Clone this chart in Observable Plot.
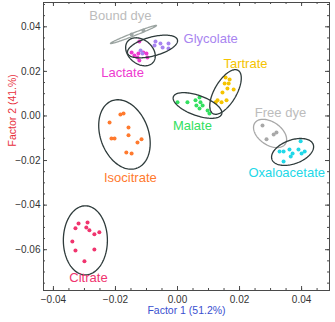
<!DOCTYPE html>
<html><head><meta charset="utf-8">
<script src="https://cdn.jsdelivr.net/npm/d3@7"></script>
<script src="https://cdn.jsdelivr.net/npm/@observablehq/plot@0.6"></script>
<style>body{margin:0;background:#fff;font-family:"Liberation Sans",Arial,sans-serif}</style>
</head><body><div id="chart"></div>
<script>
// ---- data ----
const groups = ["Citrate","Isocitrate","Malate","Tartrate","Free dye","Oxaloacetate","Lactate","Glycolate","Bound dye"];
const colors = ["#f0346e","#ff7a2e","#33e060","#f5c400","#a8a8a8","#22d8e8","#ee3ad0","#a884f0","#a0a8a8"];
const labelColors = ["#f0346e","#ff7a2e","#33e060","#f5c400","#bcbcbc","#22d8e8","#ee3ad0","#a884f0","#bcbcbc"];

const citrateX = [-0.0319,-0.0290,-0.0329,-0.0294,-0.0284,-0.0268,-0.0252,-0.0339,-0.0329,-0.0268,-0.0300];
const citrateY = [-0.0482,-0.0478,-0.0504,-0.0500,-0.0513,-0.0531,-0.0522,-0.0563,-0.0603,-0.0599,-0.0652];
const isocitrateX = [-0.0184,-0.0174,-0.0219,-0.0158,-0.0213,-0.0203,-0.0158,-0.0116,-0.0129,-0.0165,-0.0148];
const isocitrateY = [0.0007,0.0011,-0.0029,-0.0052,-0.0101,-0.0101,-0.0087,-0.0105,-0.0119,-0.0164,-0.0168];
const malateX = [0.0000,0.0032,0.0058,0.0071,0.0074,0.0081,0.0061,0.0071,0.0097,0.0103];
const malateY = [0.0061,0.0061,0.0070,0.0083,0.0061,0.0047,0.0047,0.0034,0.0025,0.0011];
const tartrateX = [0.0155,0.0168,0.0152,0.0165,0.0161,0.0181,0.0145,0.0129,0.0142,0.0158,0.0123];
const tartrateY = [0.0173,0.0164,0.0146,0.0146,0.0123,0.0119,0.0105,0.0070,0.0061,0.0070,0.0061];
const freeDyeX = [0.0274,0.0310,0.0319,0.0287];
const freeDyeY = [-0.0043,-0.0083,-0.0074,-0.0105];
const oxaloX = [0.0397,0.0329,0.0342,0.0361,0.0390,0.0410,0.0371,0.0400,0.0365,0.0342];
const oxaloY = [-0.0114,-0.0159,-0.0159,-0.0150,-0.0150,-0.0159,-0.0168,-0.0168,-0.0182,-0.0204];
const lactateX = [-0.0123,-0.0148,-0.0126,-0.0110,-0.0100,-0.0139,-0.0097,-0.0123,-0.0129];
const lactateY = [0.0334,0.0285,0.0280,0.0285,0.0280,0.0271,0.0262,0.0249,0.0262];
const glycolateX = [-0.0071,-0.0055,-0.0029,-0.0048,-0.0029,-0.0074,-0.0119,-0.0113];
const glycolateY = [0.0334,0.0325,0.0325,0.0307,0.0303,0.0316,0.0294,0.0280];
const boundDyeX = [-0.0148,-0.0110];
const boundDyeY = [0.0366,0.0383];
const pointsX = [citrateX,isocitrateX,malateX,tartrateX,freeDyeX,oxaloX,lactateX,glycolateX,boundDyeX];
const pointsY = [citrateY,isocitrateY,malateY,tartrateY,freeDyeY,oxaloY,lactateY,glycolateY,boundDyeY];

// ellipse centre and conjugate semi-axis vectors (data units)
const ellCx = [-0.0297,-0.0171,0.00645,0.01548,0.02984,0.0371,-0.01194,-0.00806,-0.01419];
const ellCy = [-0.0558,-0.0083,0.0047,0.01076,-0.00785,-0.01614,0.02879,0.03117,0.03655];
const ellUx = [0.0071,0.00397,0.00778,0.00404,0.00489,0.00665,0.00408,0.00804,0.00742];
const ellUy = [0,-0.01515,-0.00392,0.0097,-0.00475,0.00336,-0.00475,0.00299,0.00403];
const ellVx = [0,-0.00729,-0.0011,0.00308,-0.00213,0.00131,-0.00249,0.00079,0.00018];
const ellVy = [0.0155,-0.00367,-0.00421,-0.00246,-0.00422,-0.00501,-0.00412,-0.00411,-0.00063];
const ellStroke = ["#2e3b3b","#2e3b3b","#2e3b3b","#2e3b3b","#a8a8a8","#2e3b3b","#2e3b3b","#2e3b3b","#9aa3a0"];

// label anchor positions (data units)
const labelX = [-0.0287,-0.0152,0.0048,0.0219,0.0332,0.0352,-0.0177,0.0107,-0.0184];
const labelY = [-0.0724,-0.0276,-0.0043,0.0235,0.0016,-0.0253,0.0195,0.0348,0.0451];

const xMajor = [-0.04,-0.02,0.00,0.02,0.04];
const yMajor = [-0.06,-0.04,-0.02,0.00,0.02,0.04];
const xTitle = "Factor 1 (51.2%)";
const yTitle = "Factor 2 (41.%)";

// ---- build tables ----
const pts = [];
groups.forEach((g,i)=>pointsX[i].forEach((x,j)=>pts.push({g, x, y: pointsY[i][j], c: colors[i]})));
const ell = [];
groups.forEach((g,i)=>{
  for (let k=0;k<=120;k++){
    const t = 2*Math.PI*k/120;
    ell.push({g, s: ellStroke[i],
      x: ellCx[i] + ellUx[i]*Math.cos(t) + ellVx[i]*Math.sin(t),
      y: ellCy[i] + ellUy[i]*Math.cos(t) + ellVy[i]*Math.sin(t)});
  }
});
const labels = groups.map((g,i)=>({g, x: labelX[i], y: labelY[i], c: labelColors[i]}));

const xDomain = [-0.0432, 0.049];
const yDomain = [-0.0783, 0.0509];
const xMinor = d3.range(-0.04, 0.0491, 0.005).map(v=>+v.toFixed(3));
const yMinor = d3.range(-0.075, 0.0509, 0.005).map(v=>+v.toFixed(3));

const W = 335, H = 322, mL = 43, mR = 6, mT = 2, mB = 32;
const iw = W - mL - mR, ih = H - mT - mB;
const fmt = d3.format(".2f");
const frameColor = "#4a4a4a";

const chart = Plot.plot({
  width: W, height: H,
  marginLeft: mL, marginRight: mR, marginTop: mT, marginBottom: mB,
  style: {fontFamily: "Liberation Sans, Arial, sans-serif", background: "#fff"},
  x: {domain: xDomain, label: null},
  y: {domain: yDomain, label: null},
  marks: [
    Plot.frame({stroke: frameColor}),
    // inward ticks, all four sides
    Plot.tickX(xMajor, {x: d=>d, insetTop: ih-4, stroke: frameColor}),
    Plot.tickX(xMajor, {x: d=>d, insetBottom: ih-4, stroke: frameColor}),
    Plot.tickX(xMinor, {x: d=>d, insetTop: ih-2, stroke: frameColor}),
    Plot.tickX(xMinor, {x: d=>d, insetBottom: ih-2, stroke: frameColor}),
    Plot.tickY(yMajor, {y: d=>d, insetRight: iw-4, stroke: frameColor}),
    Plot.tickY(yMajor, {y: d=>d, insetLeft: iw-4, stroke: frameColor}),
    Plot.tickY(yMinor, {y: d=>d, insetRight: iw-2, stroke: frameColor}),
    Plot.tickY(yMinor, {y: d=>d, insetLeft: iw-2, stroke: frameColor}),
    Plot.axisX({ticks: xMajor, tickFormat: fmt, tickSize: 0, tickPadding: 5, fontSize: 10, color: "#333", label: null}),
    Plot.axisY({ticks: yMajor, tickFormat: fmt, tickSize: 0, tickPadding: 3, fontSize: 10, color: "#333", label: null}),
    Plot.dot(pts, {x: "x", y: "y", r: 2, fill: "c", stroke: null}),
    Plot.line(ell, {x: "x", y: "y", z: "g", stroke: "s", strokeWidth: 1.3, curve: "linear"}),
    Plot.text(labels, {x: "x", y: "y", text: "g", fill: "c", fontSize: 13}),
    Plot.text([xTitle], {text: d=>d, frameAnchor: "bottom", dy: 23, fill: "#3a4fd0", fontSize: 10.5}),
    Plot.text([yTitle], {text: d=>d, frameAnchor: "left", dx: -31, rotate: -90, fill: "#e8303c", fontSize: 10.5})
  ]
});
document.getElementById("chart").appendChild(chart);
</script></body></html>
